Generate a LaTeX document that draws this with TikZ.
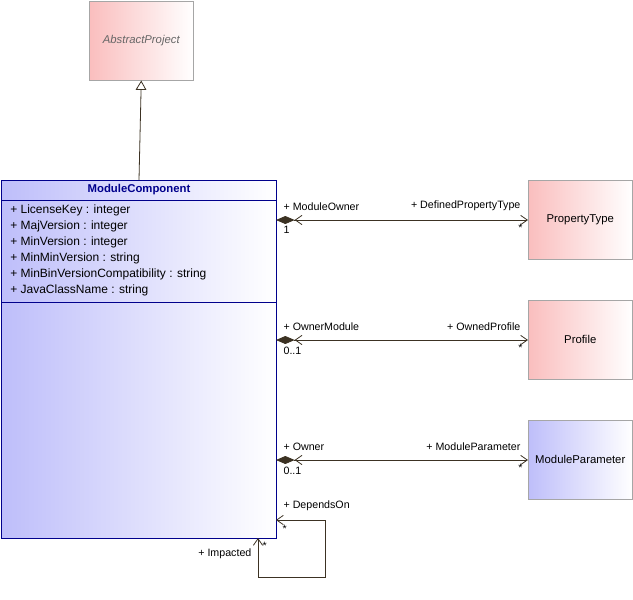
\documentclass[tikz,border=0pt]{standalone}
\usepackage{fontspec}
\setmainfont{Liberation Sans}
\usetikzlibrary{arrows.meta,shapes.geometric}
\definecolor{pinkc}{RGB}{250,190,190}
\definecolor{bluec}{RGB}{190,190,250}
\definecolor{navy}{RGB}{0,0,140}
\definecolor{ln}{RGB}{60,50,35}
\begin{document}
\begin{tikzpicture}[x=0.75pt,y=-0.75pt,font=\fontsize{8.5}{10}\selectfont,
  cls/.style={draw=gray!70,minimum width=78pt,minimum height=59.25pt,inner sep=0pt,left color=pinkc,right color=white,anchor=north west},
  conn/.style={draw=ln,line width=0.6pt},
  oarr/.style={-{Straight Barb[length=5pt,width=7pt]}},
  lab/.style={inner sep=1pt,font=\fontsize{8}{9}\selectfont}]
\useasboundingbox (0,0) rectangle (633,600);
\node[cls,text=gray!80!black,font=\fontsize{8.5}{10}\selectfont\itshape] (ap) at (89,1) {AbstractProject};
\node[draw=navy,line width=0.6pt,left color=bluec,right color=white,minimum width=206.25pt,minimum height=268.5pt,anchor=north west,inner sep=0pt] (mc) at (1,180) {};
\node[font=\fontsize{8.5}{10}\selectfont\bfseries,text=navy] (mct) at (139,190) {ModuleComponent};
\draw[navy,line width=0.6pt] (1,200) -- (276,200) (1,302) -- (276,302);
\node[anchor=north west,align=left,inner sep=0pt,font=\fontsize{9}{12}\selectfont] (attr) at (10,205) {+ LicenseKey : integer\\+ MajVersion : integer\\+ MinVersion : integer\\+ MinMinVersion : string\\+ MinBinVersionCompatibility : string\\+ JavaClassName : string};
\node[cls] (pt) at (528,180) {PropertyType};
\node[cls] (pr) at (528,300) {Profile};
\node[cls,left color=bluec] (mp) at (528,420) {ModuleParameter};
\draw[conn,-{Triangle[open,length=7pt,width=8pt]}] (mct.north |- mc.north) -- (ap.south);
\foreach \y/\t/\a/\b/\m in {220/pt/ModuleOwner/DefinedPropertyType/1,340/pr/OwnerModule/OwnedProfile/0..1,460/mp/Owner/ModuleParameter/0..1}{
  \coordinate (s\t) at (276,\y);
  \draw[conn,{Diamond[length=14pt,width=6pt,fill=ln]Straight Barb[length=5pt,width=7pt]}-{Straight Barb[length=5pt,width=7pt]}] (s\t) -- (s\t -| \t.west);
  \node[lab,anchor=south west] at (282,\y-8) {+ \a};
  \node[lab,anchor=south east] at (522,\y-8) {+ \b};
  \node[lab,anchor=north west] at (282,\y+5) {\m};
  \node[lab,anchor=north east] at (524,\y+3) {*};
}
\coordinate (l1) at (276,520);
\coordinate (l2) at (258,538);
\draw[conn,oarr] (325,520) -- (l1);
\draw[conn,oarr] (325,520) -- (325,577) -- (258,577) -- (l2);
\node[lab,anchor=south west] at (282,512) {+ DependsOn};
\node[lab,anchor=north west] at (281,524) {*};
\node[lab,anchor=north east] at (253,547) {+ Impacted};
\node[lab,anchor=north west] at (261,541) {*};
\end{tikzpicture}
\end{document}
